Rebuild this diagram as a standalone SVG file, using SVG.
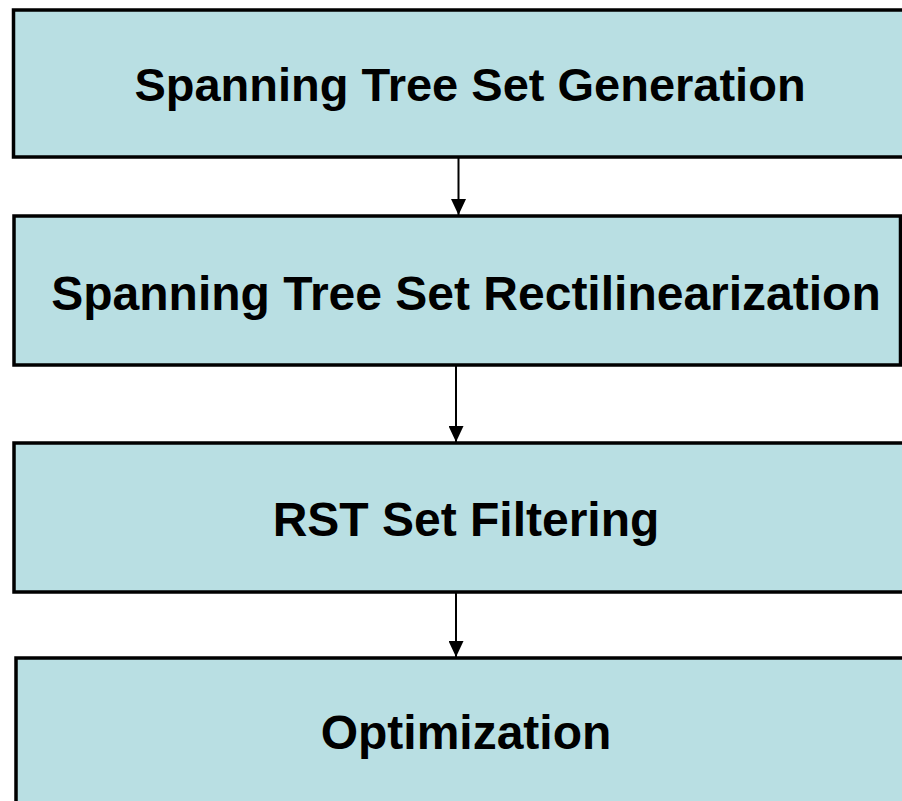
<svg xmlns="http://www.w3.org/2000/svg" width="902" height="801" viewBox="0 0 902 801">
<style>
.box{fill:#B9DFE3;stroke:#000;stroke-width:3.5}
.lbl{font-family:"Liberation Sans",Arial,sans-serif;font-weight:bold;font-size:48px;fill:#000;text-anchor:middle}
.conn{stroke:#000;stroke-width:2;fill:none}
</style>
<defs>
<marker id="arr" markerWidth="16" markerHeight="15" refX="16" refY="7.5" orient="auto" markerUnits="userSpaceOnUse">
<path d="M0,0 L16,7.5 L0,15 Z" fill="#000"/>
</marker>
</defs>
<rect width="902" height="801" fill="#fff"/>
<g id="connectors">
<line class="conn" x1="458.5" y1="157" x2="458.5" y2="215" marker-end="url(#arr)"/>
<line class="conn" x1="456" y1="365" x2="456" y2="442" marker-end="url(#arr)"/>
<line class="conn" x1="456" y1="592" x2="456" y2="657" marker-end="url(#arr)"/>
</g>
<g id="node1">
<rect class="box" x="13.5" y="10" width="900" height="147"/>
<text class="lbl" x="470" y="101" style="font-size:47px">Spanning Tree Set Generation</text>
</g>
<g id="node2">
<rect class="box" x="14" y="216" width="886.5" height="149"/>
<text class="lbl" x="466" y="310">Spanning Tree Set Rectilinearization</text>
</g>
<g id="node3">
<rect class="box" x="14" y="443" width="900" height="149"/>
<text class="lbl" x="466" y="536">RST Set Filtering</text>
</g>
<g id="node4">
<rect class="box" x="16" y="658" width="900" height="160"/>
<text class="lbl" x="466" y="749">Optimization</text>
</g>
</svg>
